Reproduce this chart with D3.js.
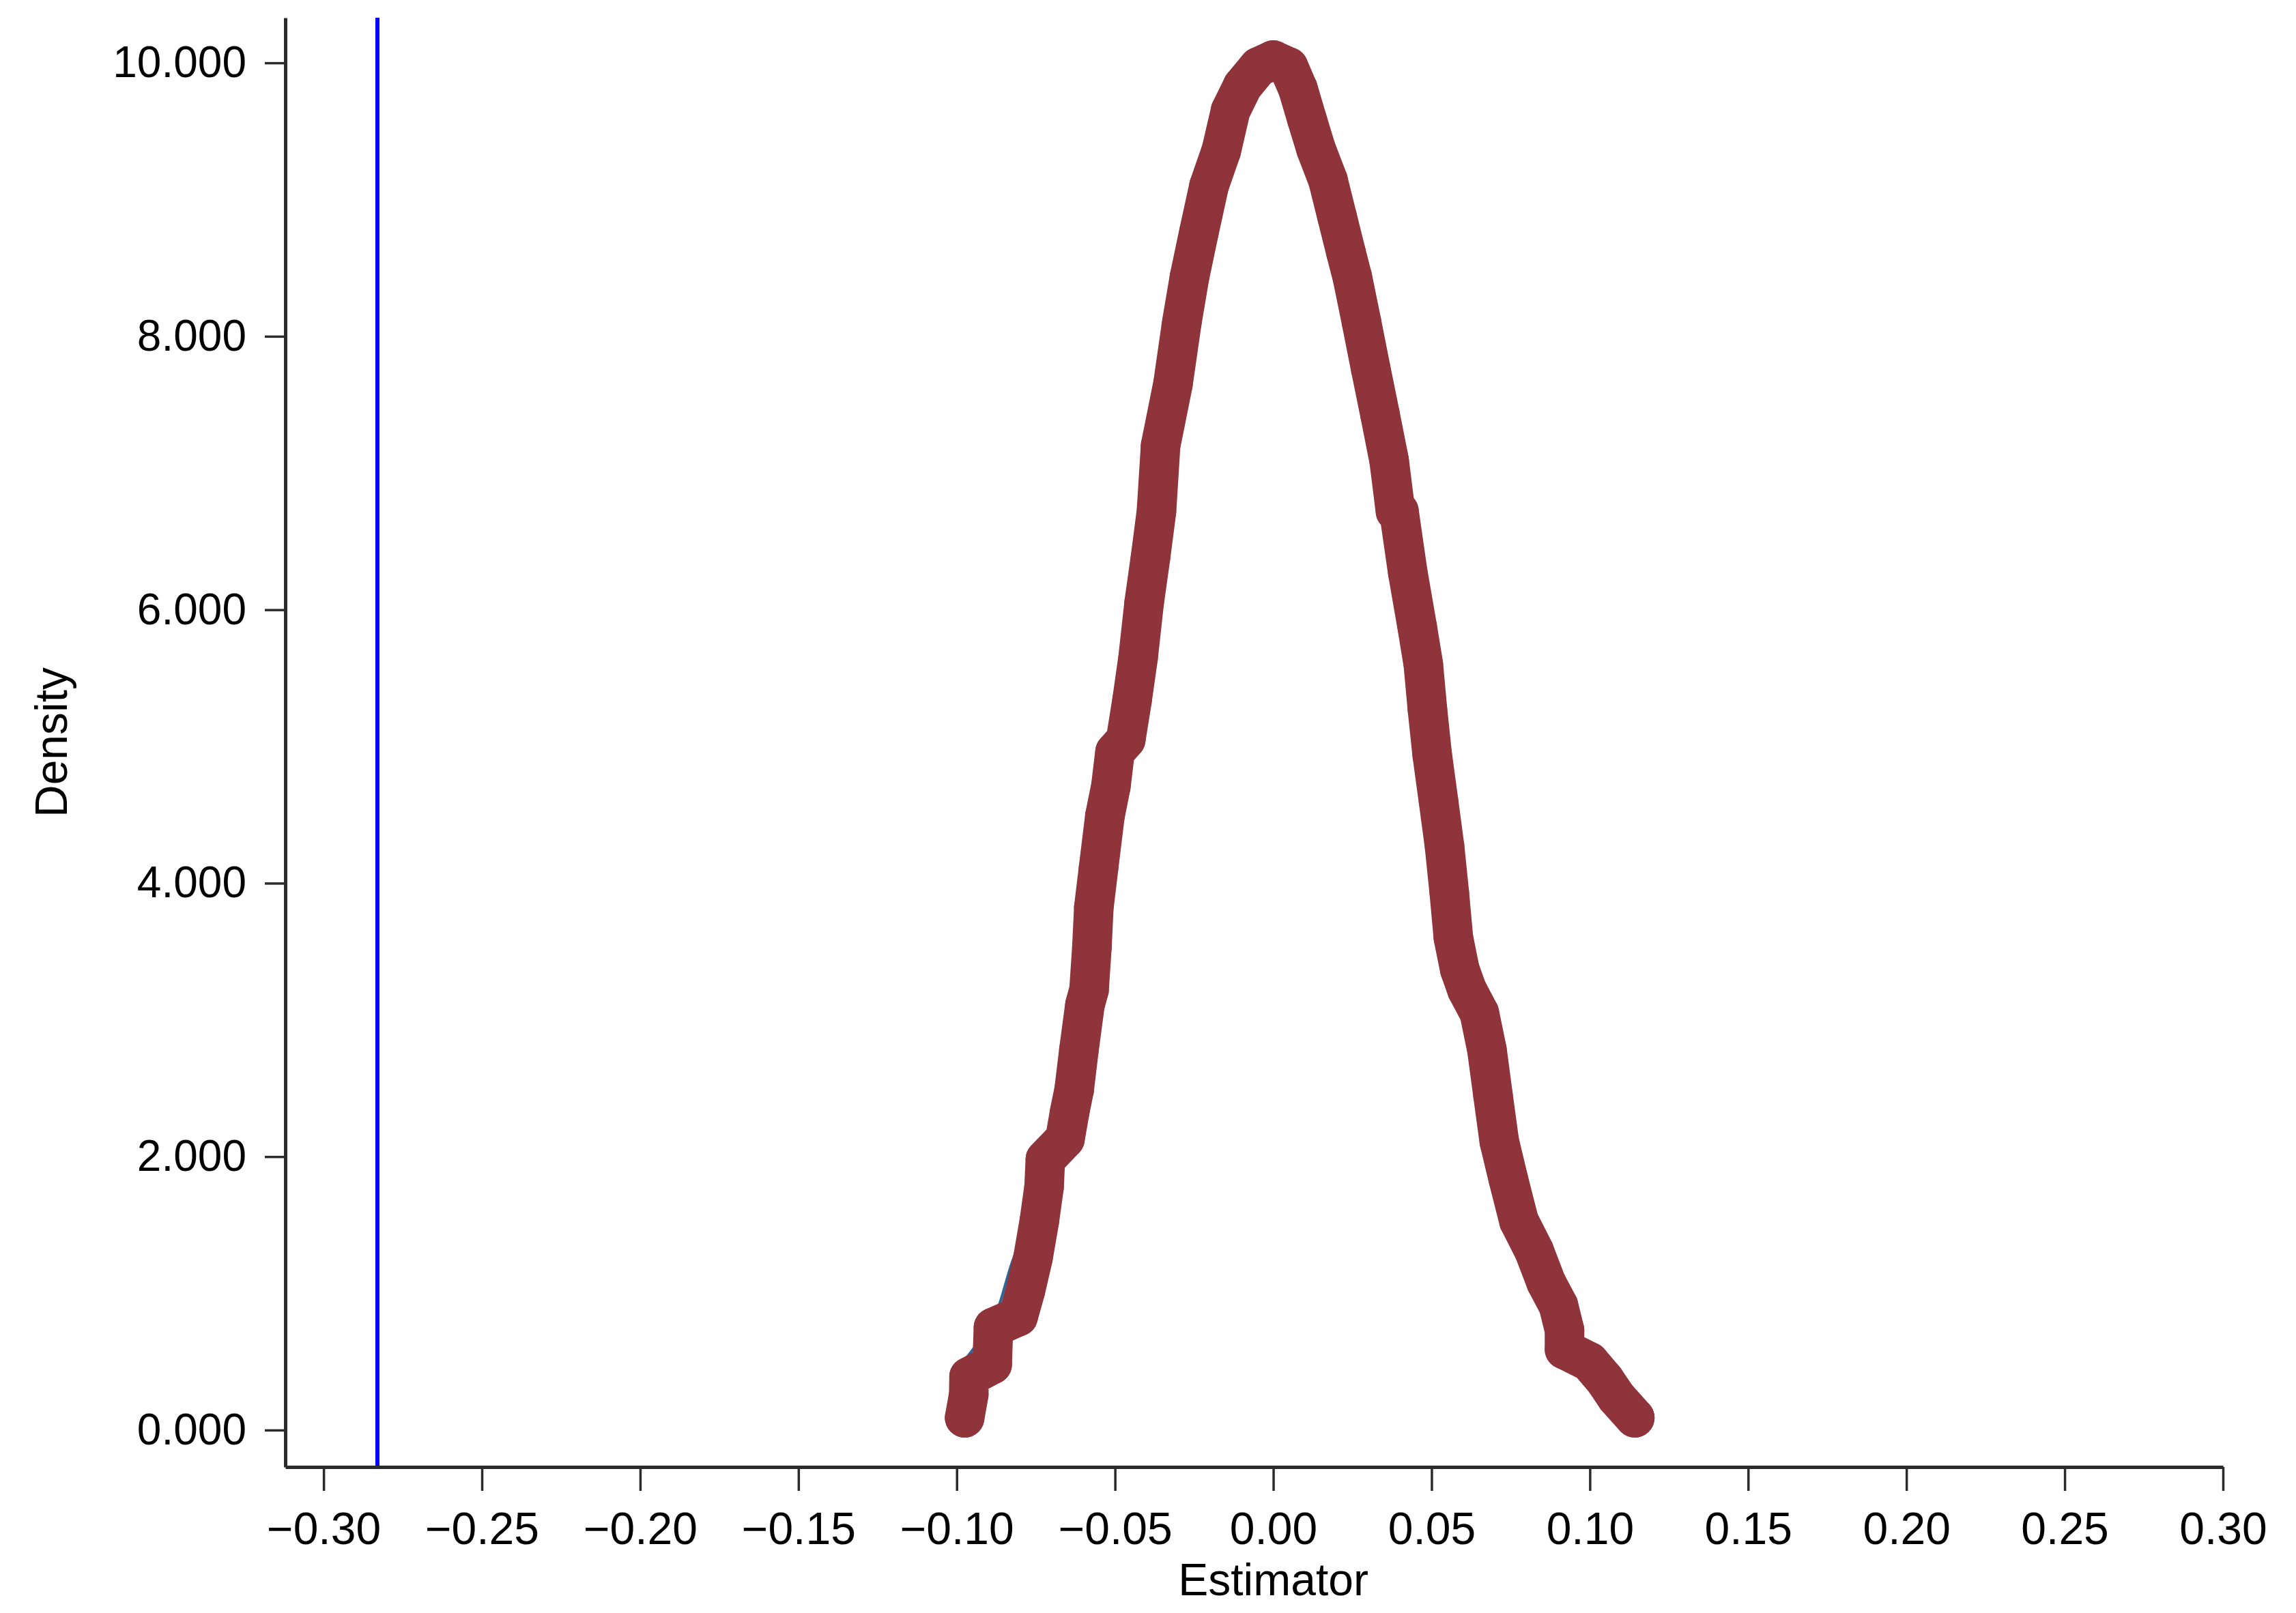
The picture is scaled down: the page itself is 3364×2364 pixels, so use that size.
<!DOCTYPE html>
<html>
<head>
<meta charset="utf-8">
<script src="https://cdn.jsdelivr.net/npm/d3@7"></script>
<style>
  body { margin: 0; background: #fff; }
  svg text { font-family: "Liberation Sans", Arial, Helvetica, sans-serif; fill: #000; }
</style>
</head>
<body>
<script>

// kernel density of the estimator (thick maroon markers)
var estX = [-0.0975, -0.0962, -0.0961, -0.0888, -0.0884, -0.0806, -0.0783, -0.0759, -0.0739, -0.0724,
            -0.0720, -0.0658, -0.0643, -0.0629, -0.0614, -0.0595, -0.0582, -0.0573, -0.0567, -0.0552,
            -0.0532, -0.0513, -0.0500, -0.0466, -0.0446, -0.0427, -0.0408, -0.0388, -0.0369, -0.0356,
            -0.0317, -0.0289, -0.0265, -0.0235, -0.0203, -0.0164, -0.0135, -0.0097, -0.0047, 0.0000,
             0.0048,  0.0078,  0.0106,  0.0135,  0.0173,  0.0202,  0.0230,  0.0250,  0.0279,  0.0308,
             0.0337,  0.0366,  0.0386,  0.0397,  0.0425,  0.0455,  0.0474,  0.0487,  0.0502,  0.0522,
             0.0541,  0.0556,  0.0569,  0.0589,  0.0612,  0.0651,  0.0675,  0.0694,  0.0714,  0.0742,
             0.0776,  0.0824,  0.0862,  0.0901,  0.0920,  0.0920,  0.0998,  0.1046,  0.1084,  0.1142]
var estDensity = [0.09, 0.26, 0.39, 0.48, 0.75, 0.83, 1.02, 1.26, 1.53, 1.78,
                  1.98, 2.13, 2.33, 2.49, 2.78, 3.11, 3.22, 3.53, 3.82, 4.11,
                  4.49, 4.71, 4.96, 5.05, 5.34, 5.65, 6.05, 6.38, 6.72, 7.20,
                  7.65, 8.10, 8.43, 8.76, 9.10, 9.36, 9.65, 9.83, 9.97, 10.02,
                  9.97, 9.81, 9.59, 9.37, 9.14, 8.87, 8.61, 8.43, 8.10, 7.76,
                  7.43, 7.09, 6.72, 6.72, 6.27, 5.87, 5.60, 5.27, 4.94, 4.60,
                  4.27, 3.93, 3.60, 3.37, 3.22, 3.05, 2.78, 2.45, 2.11, 1.84,
                  1.53, 1.31, 1.08, 0.91, 0.73, 0.59, 0.50, 0.37, 0.24, 0.09]

// thin blue reference density, mostly hidden under the maroon one
var normX = [-0.0985, -0.093, -0.0874, -0.0826, -0.078, -0.073, -0.067, -0.06, -0.05, -0.04, -0.03, -0.02, -0.01,
             0, 0.01, 0.02, 0.03, 0.04, 0.05, 0.06, 0.07, 0.08, 0.09, 0.10, 0.114]
var normDensity = [0.48, 0.65, 0.86, 1.22, 1.50, 1.95, 2.30, 3.10, 4.90, 6.20, 7.90, 9.10, 9.80,
                   10.0, 9.70, 8.90, 7.85, 6.45, 4.95, 3.30, 2.30, 1.42, 0.92, 0.50, 0.10]

// vertical line (true effect)
var refValue = -0.283

var xTicks = [-0.30, -0.25, -0.20, -0.15, -0.10, -0.05, 0.00, 0.05, 0.10, 0.15, 0.20, 0.25, 0.30]
var yTicks = [0, 2, 4, 6, 8, 10]

var width = 3364
var height = 2364

// plot frame (pixels)
var plotLeft = 418, plotRight = 3257, plotTop = 26, plotBottom = 2150

var x = d3.scaleLinear().domain([-0.3121, 0.30]).range([plotLeft, plotRight])
var y = d3.scaleLinear().domain([-0.27, 10.33]).range([plotBottom, plotTop])

var svg = d3.select("body").append("svg")
    .attr("width", width)
    .attr("height", height)

svg.append("rect").attr("width", width).attr("height", height).attr("fill", "#fff")

// blue vertical line
svg.append("line")
    .attr("x1", x(refValue)).attr("x2", x(refValue))
    .attr("y1", plotTop).attr("y2", plotBottom)
    .attr("stroke", "#0000ff")
    .attr("stroke-width", 6)

var normData = normX.map((d, i) => [d, normDensity[i]])
var estData = estX.map((d, i) => [d, estDensity[i]])

var line = d3.line()
    .x(d => x(d[0]))
    .y(d => y(d[1]))

svg.append("path")
    .datum(normData)
    .attr("d", line.curve(d3.curveMonotoneX))
    .attr("fill", "none")
    .attr("stroke", "#2c6797")
    .attr("stroke-width", 4)

line.curve(d3.curveLinear)

svg.append("path")
    .datum(estData)
    .attr("d", line)
    .attr("fill", "none")
    .attr("stroke", "#8f343b")
    .attr("stroke-width", 58)
    .attr("stroke-linejoin", "round")
    .attr("stroke-linecap", "round")

svg.append("g")
    .selectAll("circle")
    .data(estData)
    .enter().append("circle")
    .attr("cx", d => x(d[0]))
    .attr("cy", d => y(d[1]))
    .attr("r", 29)
    .attr("fill", "#8f343b")

// axes
var xAxis = svg.append("g")
    .attr("transform", "translate(0," + plotBottom + ")")
    .call(d3.axisBottom(x).tickValues(xTicks).tickFormat(d3.format(".2f"))
      .tickSize(35).tickPadding(31).tickSizeOuter(0))

var yAxis = svg.append("g")
    .attr("transform", "translate(" + plotLeft + ",0)")
    .call(d3.axisLeft(y).tickValues(yTicks).tickFormat(d3.format(".3f"))
      .tickSize(30).tickPadding(27).tickSizeOuter(0))

;[xAxis, yAxis].forEach(g => {
  g.attr("font-family", null)
  g.select(".domain").attr("stroke", "#2b2b2b").attr("stroke-width", 5)
  g.selectAll(".tick line").attr("stroke", "#2b2b2b").attr("stroke-width", 3.5)
  g.selectAll(".tick text").attr("fill", "#000")
})
xAxis.attr("font-size", 66)
yAxis.attr("font-size", 64)

svg.append("text")
    .attr("transform", "translate(98," + (plotTop + plotBottom) / 2 + ") rotate(-90)")
    .attr("text-anchor", "middle")
    .attr("font-size", 66)
    .text("Density")

svg.append("text")
    .attr("x", x(0))
    .attr("y", 2338)
    .attr("text-anchor", "middle")
    .attr("font-size", 66)
    .text("Estimator")

</script>
</body>
</html>
